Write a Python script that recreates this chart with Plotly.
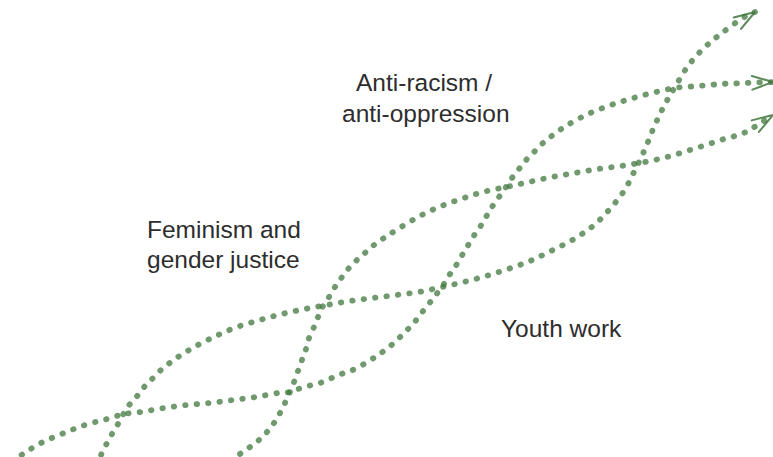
import numpy as np
import plotly.graph_objects as go

# Curve points (illustration coordinates: x to the right, y downward)
curve_a_x = [96, 101, 106, 112, 118, 124, 130, 138, 145, 153, 162, 171, 181, 196, 216, 237, 260, 282, 305,
             327, 350, 373, 396, 419, 442, 464, 486, 508, 530, 551, 574, 593, 609, 624, 635, 645, 654, 664,
             675, 688, 704, 722, 746, 755]
curve_a_y = [465, 455, 445, 434, 424, 413, 404, 395, 386, 378, 369, 362, 355, 346, 336, 327, 320, 314, 309,
             305, 301, 298, 295, 292, 287, 282, 276, 269, 261, 251, 239, 226, 210, 191, 170, 149, 127, 106,
             87, 66, 48, 33, 16, 12]

curve_b_x = [12, 20, 29, 43, 64, 85, 107, 124, 141, 164, 187, 210, 233, 256, 278, 290, 301, 312, 323, 334,
             344, 355, 369, 378, 388, 397, 405, 413, 420, 428, 435, 442, 448, 455, 461, 467, 473, 480, 486,
             492, 499, 506, 512, 519, 527, 535, 543, 553, 566, 586, 608, 630, 652, 675, 698, 721, 745, 773]
curve_b_y = [461, 456, 450, 442, 433, 425, 419, 414, 412, 408, 405, 403, 400, 397, 393, 392, 388, 385, 382,
             377, 373, 369, 361, 355, 348, 340, 332, 324, 315, 305, 296, 287, 277, 267, 257, 247, 237, 227,
             217, 207, 197, 187, 178, 169, 159, 151, 143, 135, 126, 115, 106, 99, 93, 88, 86, 84, 83, 82]

curve_c_x = [231, 240, 250, 259, 267, 274, 280, 285, 290, 294, 298, 302, 306, 309, 314, 318, 323, 329, 335,
             342, 349, 357, 366, 374, 384, 398, 418, 439, 461, 483, 506, 529, 552, 575, 598, 621, 645, 667,
             690, 712, 724, 735, 746, 756, 773]
curve_c_y = [461, 454, 447, 440, 432, 423, 413, 403, 392, 382, 371, 360, 349, 338, 327, 317, 306, 297, 287,
             277, 268, 260, 252, 245, 238, 229, 217, 207, 199, 192, 187, 182, 177, 173, 169, 166, 162, 157,
             150, 143, 139, 136, 132, 126, 115]

label_texts = ["Anti-racism /", "anti-oppression", "Feminism and", "gender justice", "Youth work"]
label_x = [354, 340, 145, 145, 499]
label_y = [82, 113, 229, 259, 328]

GREEN = "rgba(62,118,60,0.74)"
ARROW = "rgba(62,118,60,0.85)"
W, H = 773, 457

fig = go.Figure()

curves = [(curve_a_x, curve_a_y), (curve_b_x, curve_b_y), (curve_c_x, curve_c_y)]
for cx, cy in curves:
    fig.add_trace(go.Scatter(
        x=cx, y=cy, mode="lines",
        line=dict(color=GREEN, width=5.8, dash="0.5px,11px", shape="spline", smoothing=1.0),
        hoverinfo="skip", showlegend=False))

# open chevron arrowheads at curve ends, oriented along the final direction
arm_len, half_ang = 22.0, np.deg2rad(18)
for cx, cy in curves:
    tip = np.array([cx[-1], cy[-1]], dtype=float)
    prev = np.array([cx[-3], cy[-3]], dtype=float)
    d = tip - prev
    d /= np.linalg.norm(d)
    pts = []
    for s in (1, -1):
        a = s * half_ang
        rot = np.array([[np.cos(a), -np.sin(a)], [np.sin(a), np.cos(a)]])
        pts.append(tip - arm_len * rot.dot(d))
    fig.add_trace(go.Scatter(
        x=[pts[0][0], tip[0], pts[1][0]], y=[pts[0][1], tip[1], pts[1][1]],
        mode="lines", line=dict(color=ARROW, width=2), hoverinfo="skip", showlegend=False,
        cliponaxis=False))

for t, x, y in zip(label_texts, label_x, label_y):
    fig.add_annotation(x=x, y=y, text=t, showarrow=False, xanchor="left", yanchor="middle",
                       font=dict(family="Liberation Sans, Arial, sans-serif", size=24.5, color="#2d2d2d"))

fig.update_xaxes(range=[0, W], visible=False, fixedrange=True)
fig.update_yaxes(range=[H, 0], visible=False, fixedrange=True)
fig.update_layout(width=W, height=H, margin=dict(l=0, r=0, t=0, b=0),
                  paper_bgcolor="white", plot_bgcolor="white", hovermode=False)

post = ("document.body.style.margin='0';document.body.style.overflow='hidden';"
        "var s=document.createElement('style');"
        "s.textContent='.js-line{stroke-linecap:round !important;}';"
        "document.head.appendChild(s);")
fig.write_html("out.html", post_script=post, config={"displayModeBar": False, "staticPlot": True})
